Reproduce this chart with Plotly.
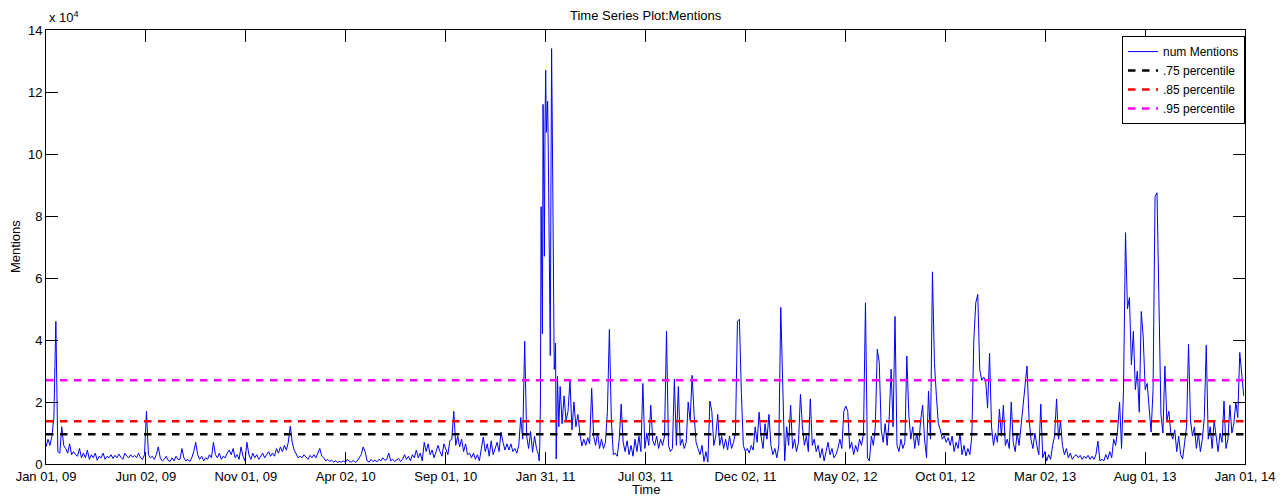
import pandas as pd
import plotly.graph_objects as go

# Daily mention counts, in thousands.
# 2009-01-01 .. 2011-01-18, one value every 3 days
early_k = [
    5.5, 8, 6, 9, 15, 46, 4, 3.5, 12, 6,
    5, 3.5, 6.5, 3, 4, 3, 2.5, 5, 2, 3.5,
    2, 4.5, 1.5, 3, 2, 3.5, 1.2, 2.5, 2, 3.5,
    1.5, 2.5, 2, 3, 1.8, 2.8, 2, 3.2, 2.2, 1.5,
    3.5, 2.5, 2, 3, 2.2, 2.8, 2, 3.5, 2, 1.5,
    3, 17, 3, 2, 2.5, 1.5, 3, 5.5, 2, 1,
    1.5, 2.5, 1.2, 0.8, 2, 1, 2.5, 1.5, 1.5, 5,
    2, 1, 1.5, 0.8, 2, 4, 7, 3, 1.5, 2.5,
    1, 2, 1.5, 3, 2, 7, 3, 2, 3.5, 1.5,
    2.5, 2, 3.5, 4.5, 3, 5, 2, 3, 1.5, 5.5,
    2.5, 1, 7, 3, 1.5, 3.5, 2, 3, 1.5, 2.5,
    3.5, 2, 3, 4, 2.5, 3.5, 2.5, 5, 3.5, 5.5,
    4, 6, 4.5, 7, 12.2, 7, 4.5, 3, 2, 2.5,
    2, 3, 2.2, 1.5, 2.8, 2, 3, 2, 3.5, 5,
    2.5, 2, 1, 1.5, 0.8, 1.2, 0.6, 1, 0.5, 0.8,
    0.6, 1, 0.5, 1.5, 0.8, 0.6, 1.2, 0.5, 1, 2,
    3, 5.5, 4, 1, 0.6, 1.5, 0.8, 1.2, 0.7, 1.5,
    1, 2, 1.2, 1.5, 3.5, 1, 1.5, 0.8, 1.2, 1.8,
    0.8, 1.5, 3, 1.5, 2.5, 1, 3, 2, 4.5, 2,
    3.5, 1, 7, 4, 6.5, 3, 4.5, 2, 4, 6,
    4, 2.5, 6.5, 5, 3, 7.5, 8, 17, 6, 9,
    5.5, 8, 4, 6.5, 3, 3.5, 2, 3.5, 1.5, 3,
    1, 5, 8.7, 4, 6.5, 2.5, 7.5, 3, 5, 7,
    4, 10.3, 7, 4.5, 6.5, 4.5, 6.5, 4, 5, 3.5,
    6, 15, 8, 39.6, 9, 5, 10.5, 3.8, 9, 5,
]

# 2011-01-21 .. 2011-02-21, daily
burst_k = [
    3, 1, 6, 20, 83, 50, 42, 116, 90, 67,
    110, 127, 107, 112, 117, 100, 83, 55, 35, 90,
    134, 110, 70, 45, 30.5, 33, 39, 1.6, 15, 28.3,
    20, 12,
]

# 2011-02-23 .. 2013-12-30, one value every 3 days
late_k = [
    25, 13, 22, 14, 17, 27, 11, 20, 12, 16,
    10, 5.8, 8, 6, 8.5, 6.5, 24.4, 9, 6, 10,
    5, 8, 5, 7, 17, 43.4, 14, 3, 3.5, 2.5,
    8, 19.3, 7, 4, 7.5, 3, 6, 2.5, 8, 4,
    9, 4, 26, 5, 10, 6, 19, 7.5, 6, 9,
    5, 8, 6, 9, 42.8, 6, 4, 5, 27.4, 6,
    25, 6, 8, 5, 7, 20, 14, 28.6, 16, 7,
    5, 3, 6, 0.8, 4, 0.6, 20.3, 17, 6, 9,
    16, 6, 9, 5, 8, 4.5, 9, 5, 7, 10,
    46, 46.7, 23, 6, 4, 5, 3.5, 6, 4.5, 12,
    7, 16.7, 9, 5, 13, 8, 16, 6, 3, 5,
    2, 6, 50.5, 20, 1, 12, 6, 19, 5, 8,
    4, 7, 22.5, 12, 6, 9, 4, 21, 6, 8,
    4, 6, 2, 5, 1, 4, 7, 3, 5, 2,
    3,
    5, 8, 5, 17, 18.7, 17, 5, 7, 3, 6,
    4, 8, 6, 10, 52, 2, 1, 9, 6, 12,
    37, 32.8, 11, 7, 13, 6, 14, 30.6, 12, 47.6,
    6, 4, 8, 5, 7, 34.8, 16, 8, 12, 5,
    10, 6, 14, 19, 8, 2, 23.5, 8, 62, 32.8,
    22, 13, 11, 8, 9, 7, 8.5, 6, 9, 4,
    7, 5, 10, 3, 6, 2.6, 5, 3, 9, 40,
    52, 54.7, 30.6, 27, 28, 27, 18, 35.7, 12, 6,
    10, 7, 17.7, 9, 19, 6, 8, 5, 20, 7,
    4, 10, 6, 13, 18, 25, 31.6, 15, 8, 5,
    10, 6, 3, 19.3, 2, 4, 1, 3, 1.5, 6,
    9, 21, 8, 14, 6, 3, 5, 2, 3.5, 1.5,
    2.5,
    3, 2, 2.8, 1.5, 2.5, 1.8, 2.8, 1.5, 2.5, 1.5,
    3, 7.4, 1, 1.5, 1, 3, 1.5, 4, 2, 8,
    6, 11, 20, 5, 24, 74.6, 50, 53.7, 32, 42.8,
    24, 30, 16.7, 49.2, 40.9, 24, 26, 19, 10.3, 24,
    86.2, 87.5, 44.4, 16, 10, 31.6, 14, 17, 10, 8,
    11, 4, 9, 3, 1.6, 7, 12, 38.6, 14, 9,
    12, 5, 10, 4, 8, 15, 38.3, 8, 12, 5,
    14, 9, 4, 10, 7, 20.3, 5, 8, 19, 10,
    13, 20, 15, 36, 27.4, 22,
]

series_start = pd.Timestamp("2009-01-01")
burst_start = pd.Timestamp("2011-01-21")
late_start = pd.Timestamp("2011-02-23")
series_end = pd.Timestamp("2014-01-01")

percentile_names = [".75 percentile", ".85 percentile", ".95 percentile"]
percentile_values = [9600, 13800, 27000]
percentile_colors = ["#000000", "#ff0000", "#ff00ff"]

x_tick_labels = ["Jan 01, 09", "Jun 02, 09", "Nov 01, 09", "Apr 02, 10",
                 "Sep 01, 10", "Jan 31, 11", "Jul 03, 11", "Dec 02, 11",
                 "May 02, 12", "Oct 01, 12", "Mar 02, 13", "Aug 01, 13",
                 "Jan 01, 14"]
y_tick_values = [0, 20000, 40000, 60000, 80000, 100000, 120000, 140000]
y_tick_labels = ["0", "2", "4", "6", "8", "10", "12", "14"]

dates = (list(pd.date_range(series_start, periods=len(early_k), freq="3D"))
         + list(pd.date_range(burst_start, periods=len(burst_k), freq="D"))
         + list(pd.date_range(late_start, periods=len(late_k), freq="3D")))
mentions = [v * 1000 for v in early_k + burst_k + late_k]

span = series_end - series_start
x_tick_values = [series_start + span * k / 12 for k in range(13)]

FONT = "Liberation Sans, Arial, Helvetica, sans-serif"

fig = go.Figure()
fig.add_trace(go.Scatter(
    x=dates, y=mentions, mode="lines", name="num Mentions",
    line=dict(color="#0000ff", width=1),
))
for name, val, col in zip(percentile_names, percentile_values, percentile_colors):
    fig.add_trace(go.Scatter(
        x=[series_start, series_end], y=[val, val], mode="lines", name=name,
        line=dict(color=col, width=2.5, dash="7.5px,6.5px"),
    ))

axis_common = dict(
    showline=True, linecolor="black", linewidth=1, mirror="ticks",
    ticks="inside", ticklen=12, tickcolor="black", tickwidth=1,
    showgrid=False, zeroline=False,
    tickfont=dict(family=FONT, size=13, color="black"),
)

fig.update_layout(
    width=1287, height=496,
    margin=dict(l=46, r=35, t=30, b=31),
    paper_bgcolor="white", plot_bgcolor="white",
    font=dict(family=FONT, size=13, color="black"),
    showlegend=True,
    legend=dict(
        x=1.0, y=0.986, xanchor="right", yanchor="top",
        bordercolor="black", borderwidth=1, bgcolor="white",
        font=dict(family=FONT, size=12, color="black"),
        tracegroupgap=0,
    ),
    xaxis=dict(range=[series_start, series_end], tickvals=x_tick_values,
               ticktext=x_tick_labels, **axis_common),
    yaxis=dict(range=[0, 140000], tickvals=y_tick_values,
               ticktext=y_tick_labels, **axis_common),
    annotations=[
        dict(text="Time Series Plot:Mentions", xref="paper", yref="paper",
             x=0.5, y=1, yshift=15, showarrow=False, yanchor="middle",
             font=dict(size=13)),
        dict(text="Time", xref="paper", yref="paper", x=0.5, y=0,
             yshift=-25, showarrow=False, yanchor="middle",
             font=dict(size=13)),
        dict(text="Mentions", xref="paper", yref="paper", x=0, y=0.5,
             xshift=-31, showarrow=False, textangle=-90, xanchor="center",
             font=dict(size=13)),
        dict(text="x 10<sup>4</sup>", xref="paper", yref="paper", x=0, y=1,
             xshift=1, yshift=3, showarrow=False, xanchor="left",
             yanchor="bottom", font=dict(size=13)),
    ],
)

fig.write_html("out.html")
